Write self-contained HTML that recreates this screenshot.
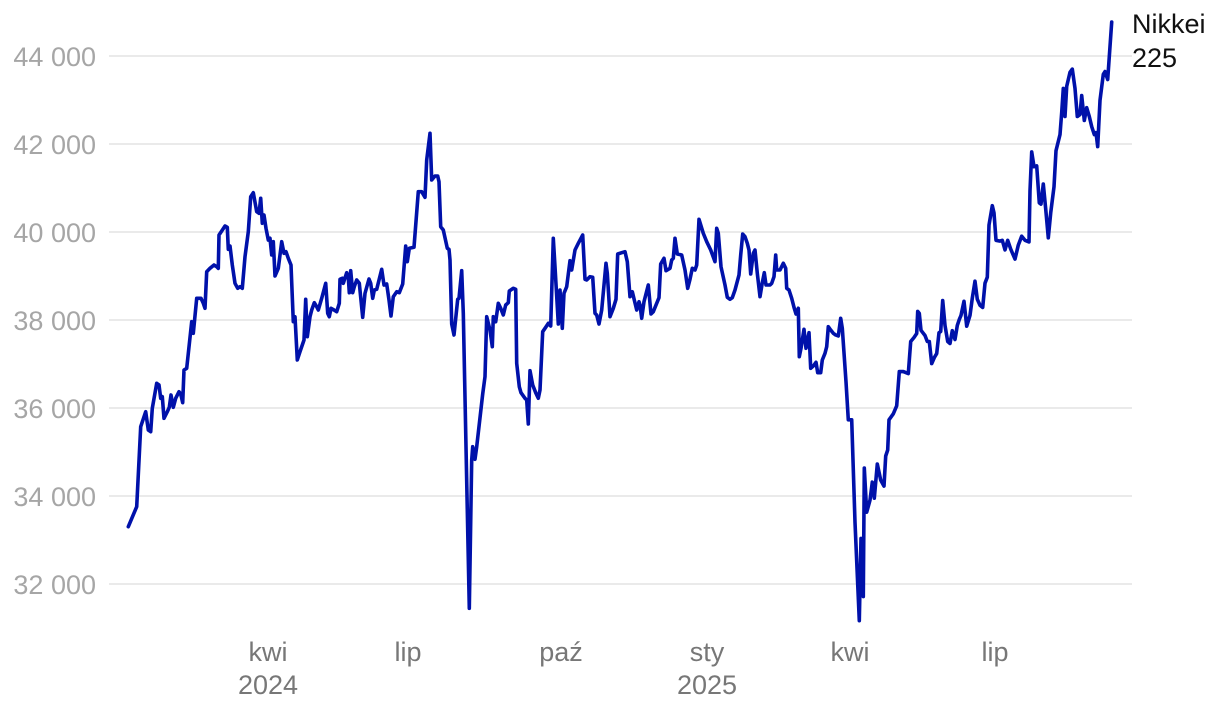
<!DOCTYPE html>
<html><head><meta charset="utf-8"><style>
html,body{margin:0;padding:0;background:#fff;}
svg{display:block;}
</style></head><body>
<svg width="1220" height="712" viewBox="0 0 1220 712" xmlns="http://www.w3.org/2000/svg">
<g stroke="#e4e4e4" stroke-width="1.5">
<line x1="109" y1="56" x2="1132" y2="56"/>
<line x1="109" y1="144" x2="1132" y2="144"/>
<line x1="109" y1="232" x2="1132" y2="232"/>
<line x1="109" y1="320" x2="1132" y2="320"/>
<line x1="109" y1="408" x2="1132" y2="408"/>
<line x1="109" y1="496" x2="1132" y2="496"/>
<line x1="109" y1="584" x2="1132" y2="584"/>
</g>
<g font-family="'Liberation Sans', sans-serif" font-size="27" fill="#a6a6a6" text-anchor="end">
<text x="96" y="66">44 000</text>
<text x="96" y="154">42 000</text>
<text x="96" y="242">40 000</text>
<text x="96" y="330">38 000</text>
<text x="96" y="418">36 000</text>
<text x="96" y="506">34 000</text>
<text x="96" y="594">32 000</text>
</g>
<g font-family="'Liberation Sans', sans-serif" font-size="27" fill="#777" text-anchor="middle">
<text x="268" y="661">kwi</text>
<text x="268" y="694">2024</text>
<text x="408" y="661">lip</text>
<text x="561" y="661">paź</text>
<text x="707" y="661">sty</text>
<text x="707" y="694">2025</text>
<text x="850" y="661">kwi</text>
<text x="995" y="661">lip</text>
</g>
<g font-family="'Liberation Sans', sans-serif" font-size="27" fill="#111">
<text x="1132" y="33">Nikkei</text>
<text x="1132" y="67">225</text>
</g>
<polyline fill="none" stroke="#0011aa" stroke-width="3.6" stroke-linejoin="round" stroke-linecap="round" points="128.3,526.7 136.7,506.7 140.7,426.7 145.7,411.7 148.3,430 150.7,431.7 152.3,408.3 156.7,383.3 159,385 160.7,398.3 162.3,396.7 164,418.3 167.3,411.7 169.3,407.3 171,395 173.3,407.3 175.7,398.3 179,391.7 180.7,394 182.7,402.7 184,370 186.7,368.3 191.7,321.7 193.3,333.3 196.7,298.3 201,298.3 203.3,303.3 205,308.3 206.7,271.7 210,268.3 214,265 216.7,266.7 218.3,268.3 219,235 221.7,231 225,226 227.3,227.3 228.3,249.3 230,246 232.3,265 235,283.3 237.7,288.3 240,286.7 242.3,288.3 245,256.7 248.3,231.7 250.7,196.7 253.3,192.7 256.7,211.7 259,213.3 260.7,198.3 262.3,223.3 264,215 266,228.3 268.3,240 270,238.3 271.7,255 273.3,241.7 275,276 278.3,268.3 281.7,241.7 284,253.3 286,251.7 288.3,258.3 291,265 293.3,321.7 295,316.7 297.3,360 300,351.7 304,340 305.7,299.3 307.3,336.7 310,316.7 311.7,310 314.3,302.7 316.7,306.7 318.3,310 321.7,298.3 325.7,283.3 327.7,313.3 329.3,316.7 331,308.3 334,310 336.7,311.7 339.3,303.3 340,279.3 342.3,278.3 343.3,283.3 346.7,272.7 348.3,277.3 349.3,292.7 350.7,270.7 352.7,292.7 354.3,286.7 356.7,280 359.3,283.3 362.7,317.3 365,293.3 369,279 370.7,283.3 372.7,298.3 374.3,290 376.7,289.3 381.7,269.3 384,285 386.7,284 389,300 391,316 393.3,296.7 396.7,291.7 399.3,292.7 402.7,284 405.7,246 407.3,261.7 409.3,248.3 414,247.3 418.3,191.7 421.7,191.7 425,197.3 426.7,160 430,133.3 431.7,180 435,176 437.7,176 439,181.7 440.7,226.7 443.3,230 447.3,248.3 449,249.3 450,260 451.7,324 454,335 457.7,299.3 459,298.3 461.7,270.7 463.3,313.3 466,446.7 469.3,608.3 471.7,460 472.7,446.7 475,459.3 476.7,446.7 482.7,394 485,376.7 486.7,316.7 490,330 492.3,346.7 493.3,316.7 495.7,321.7 498.3,303.3 500.7,308.3 503.3,315 505.7,305 508.3,302.7 509.3,291 513.3,288.3 515.7,289.3 516.7,363.3 519.3,386.7 521,392.7 525,398.3 526.7,400 528.3,424 530,370.7 532.7,385 535.7,392.7 538.3,398.3 540,390 542.7,331.7 545.7,327.3 548.3,323.3 550.7,326 553.3,238.3 555,266.7 558.3,324 560,290 562.3,328.3 564,293.3 566.7,286.7 570,260.7 571.7,270 575,250 578.3,243.3 582.7,235 585,279.3 586.7,280 590,276.7 592.7,277.3 595,313.3 596.7,315 599,324 601.7,310 606,263.3 607.3,273.3 610,316.7 613.3,308.3 616,299.3 617.7,254 621.7,252.7 625,251.7 627.3,261.7 630,296.7 632.3,291.7 636.7,310 639,301.7 640,305 641.7,318.3 644,301.7 648.3,285 651,314 653.3,311.7 656.7,303.3 659,297.7 660.7,264 664,258.3 666,270.7 670,268.3 671.7,260 673.3,258.3 675,238.3 677.3,254 681.7,255 685,270 687.7,288.3 690,279.3 692.3,268.3 695,270 696.7,265 699,219.3 703.3,233.3 706.7,241.7 710.7,250 715,261.7 716.7,228.3 718.3,233.3 721,266.7 725,285 727.3,297.3 730,299.3 732.3,297.7 735,290 739,275 740.7,255 742.7,234 745,236.7 747.3,243.3 749,250 750.7,274 753.3,253.3 755,250 757.3,273.3 760,296.7 762.3,282.7 764.3,272.7 766,285 770,285 771.7,283.3 774,276.7 775.7,255 776.7,270 780,270 783.3,263.3 785.7,268.3 786.7,288.3 789,290 791.7,298.3 794,307.3 796,314 798.3,308.3 799.3,356.7 801,348.3 804,329.3 806,348.3 809,332.7 810.7,368.3 813.3,366 816,362.3 817.7,372.7 820.7,372.7 822.3,360 825,353.3 826.7,346.7 828.3,326.7 830.7,330 833.3,333.3 835.7,335 838.3,336 840.7,318.3 842.3,328.3 846,381.7 848.3,419.8 851.7,419.8 855,522.3 859.3,620.7 861,538.4 863.3,596.6 864.3,468 866.7,512.2 870,500.2 872.3,482.1 874.3,498.2 877.3,464 880.7,480.1 884,486.1 885.7,456 887.7,450 889,419.8 893.3,413.8 896.7,405.8 899.3,371.6 903.3,371.6 908.3,373.6 910.7,341.5 914,337.5 916.7,333.5 917.7,311.4 919.3,313.4 921,330.3 925,335.5 927.3,341.5 929.3,341.5 931.7,363.6 934.3,357.6 936.7,353.6 939,332.7 940.7,331.5 942.7,300.5 945,325.4 947.7,341.5 950,343.5 952.3,330.7 955,339.5 957.3,325.4 959.3,319.4 961,315.4 964,301.3 966.7,326.2 970,315.4 972.3,298.1 975,281.2 977.3,299.3 980,305.3 982.7,307.4 985,283.2 987.3,277.2 989,225 992.3,205.7 994,212.9 996,240.3 1000,241.1 1002.3,240.3 1005,249.9 1007.7,240.3 1010.7,249.1 1015,259.1 1018.3,245.1 1021.7,236.2 1025,240.3 1029,241.9 1030,190.8 1031.7,151.9 1034,166.7 1036.7,165.9 1039.3,202.9 1041,204.1 1043.3,184 1045.7,208.9 1048.3,237.8 1050.7,212.9 1054,186.8 1056,150.7 1060,134.6 1061.7,112.5 1063.3,88.4 1065,116.5 1066.7,86.4 1070,72.3 1072.3,69.1 1075,88.4 1077.3,116.5 1080,114.5 1081.7,95.6 1084.3,120.5 1086.7,107.7 1089.3,116.5 1091.7,126.6 1094.3,134.6 1096,132.6 1097.7,146.6 1100,100.4 1103.3,74.3 1105,71.5 1107.7,79.5 1111.7,22.1"/>
</svg>
</body></html>
